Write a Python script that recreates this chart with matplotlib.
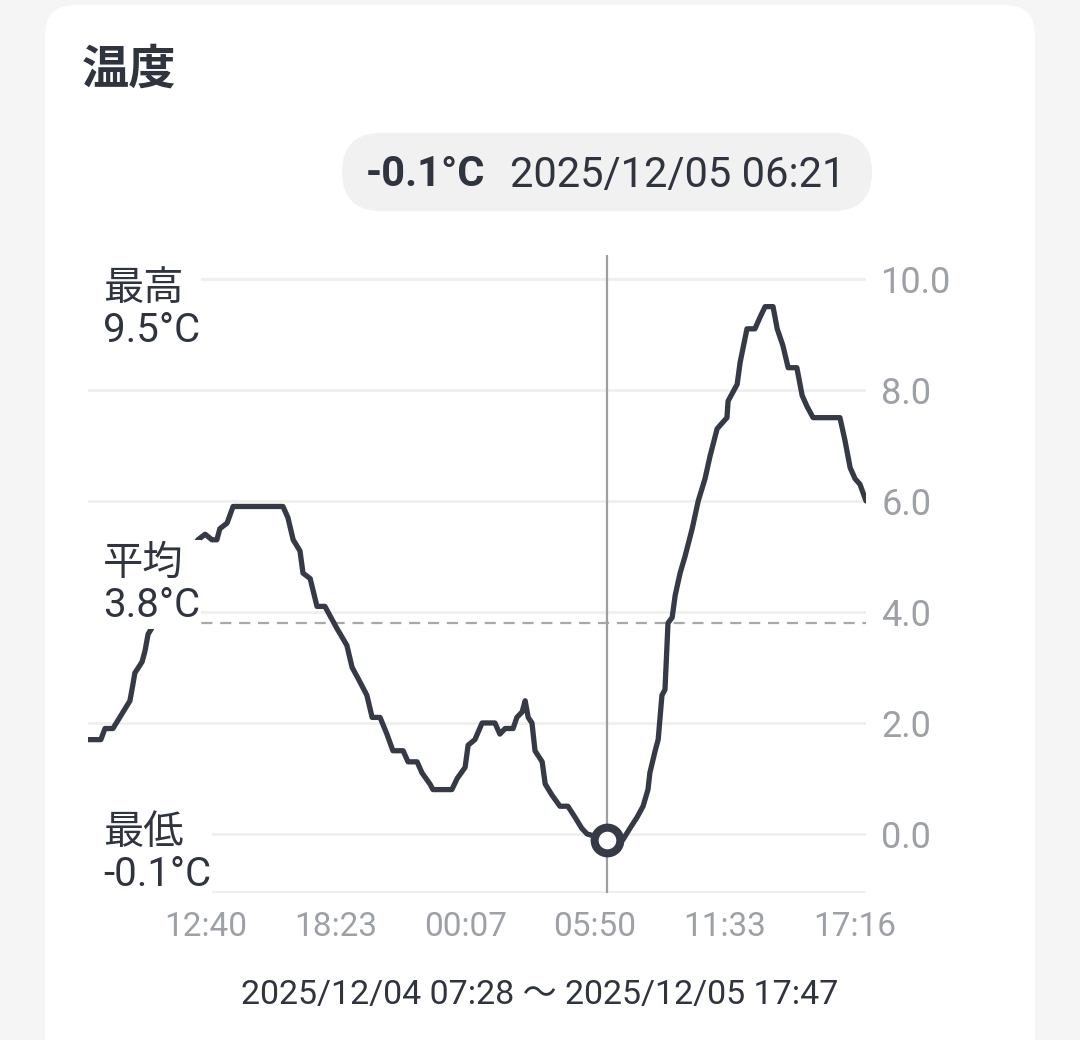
import numpy as np
import pandas as pd
from matplotlib import pyplot as plt
from matplotlib.patches import FancyBboxPatch, Rectangle
import matplotlib.transforms as mtransforms

# DATA
times = ['2025-12-04 07:28', '2025-12-04 08:02', '2025-12-04 08:13', '2025-12-04 08:34',
         '2025-12-04 09:01', '2025-12-04 09:19', '2025-12-04 09:27', '2025-12-04 09:32',
         '2025-12-04 09:51', '2025-12-04 09:59', '2025-12-04 10:07', '2025-12-04 10:25',
         '2025-12-04 10:52', '2025-12-04 11:26', '2025-12-04 11:58', '2025-12-04 12:19',
         '2025-12-04 12:38', '2025-12-04 12:56', '2025-12-04 13:09', '2025-12-04 13:17',
         '2025-12-04 13:36', '2025-12-04 13:52', '2025-12-04 16:04', '2025-12-04 16:17',
         '2025-12-04 16:31', '2025-12-04 16:49', '2025-12-04 16:57', '2025-12-04 17:16',
         '2025-12-04 17:34', '2025-12-04 17:55', '2025-12-04 18:27', '2025-12-04 18:53',
         '2025-12-04 19:07', '2025-12-04 19:23', '2025-12-04 19:46', '2025-12-04 20:00',
         '2025-12-04 20:21', '2025-12-04 20:39', '2025-12-04 20:55', '2025-12-04 21:22',
         '2025-12-04 21:35', '2025-12-04 21:59', '2025-12-04 22:12', '2025-12-04 22:33',
         '2025-12-04 22:41', '2025-12-04 23:31', '2025-12-04 23:45', '2025-12-05 00:06',
         '2025-12-05 00:14', '2025-12-05 00:32', '2025-12-05 00:51', '2025-12-05 01:25',
         '2025-12-05 01:38', '2025-12-05 01:52', '2025-12-05 02:13', '2025-12-05 02:23',
         '2025-12-05 02:37', '2025-12-05 02:45', '2025-12-05 02:53', '2025-12-05 03:03',
         '2025-12-05 03:11', '2025-12-05 03:30', '2025-12-05 03:38', '2025-12-05 03:56',
         '2025-12-05 04:17', '2025-12-05 04:38', '2025-12-05 04:57', '2025-12-05 05:15',
         '2025-12-05 05:29', '2025-12-05 06:21', '2025-12-05 07:04', '2025-12-05 07:22',
         '2025-12-05 07:41', '2025-12-05 07:57', '2025-12-05 08:10', '2025-12-05 08:15',
         '2025-12-05 08:29', '2025-12-05 08:37', '2025-12-05 08:47', '2025-12-05 08:55',
         '2025-12-05 09:03', '2025-12-05 09:14', '2025-12-05 09:22', '2025-12-05 09:35',
         '2025-12-05 09:48', '2025-12-05 10:07', '2025-12-05 10:23', '2025-12-05 10:41',
         '2025-12-05 10:54', '2025-12-05 11:13', '2025-12-05 11:39', '2025-12-05 11:42',
         '2025-12-05 12:06', '2025-12-05 12:14', '2025-12-05 12:32', '2025-12-05 12:53',
         '2025-12-05 13:06', '2025-12-05 13:20', '2025-12-05 13:41', '2025-12-05 13:52',
         '2025-12-05 14:07', '2025-12-05 14:21', '2025-12-05 14:44', '2025-12-05 14:58',
         '2025-12-05 15:11', '2025-12-05 15:27', '2025-12-05 16:38', '2025-12-05 16:51',
         '2025-12-05 17:05', '2025-12-05 17:18', '2025-12-05 17:31', '2025-12-05 17:47']
temps = [1.7, 1.7, 1.9, 1.9, 2.2, 2.4, 2.7, 2.9, 3.1, 3.3, 3.6, 3.8,
         4.2, 4.7, 5.1, 5.3, 5.4, 5.3, 5.3, 5.5, 5.6, 5.9, 5.9, 5.7,
         5.3, 5.1, 4.7, 4.6, 4.1, 4.1, 3.7, 3.4, 3.0, 2.8, 2.5, 2.1,
         2.1, 1.8, 1.5, 1.5, 1.3, 1.3, 1.1, 0.9, 0.8, 0.8, 1.0, 1.2,
         1.6, 1.7, 2.0, 2.0, 1.8, 1.9, 1.9, 2.1, 2.2, 2.4, 2.1, 2.0,
         1.5, 1.3, 0.9, 0.7, 0.5, 0.5, 0.3, 0.1, 0.0, -0.1, -0.1, 0.1,
         0.3, 0.5, 0.8, 1.1, 1.5, 1.7, 2.5, 2.6, 3.8, 3.9, 4.3, 4.7,
         5.0, 5.5, 6.0, 6.4, 6.8, 7.3, 7.5, 7.8, 8.1, 8.5, 9.1, 9.1,
         9.3, 9.5, 9.5, 9.1, 8.8, 8.4, 8.4, 7.9, 7.7, 7.5, 7.5, 7.1,
         6.6, 6.4, 6.3, 6.0]

x_ticks = ['2025-12-04 12:40', '2025-12-04 18:23', '2025-12-05 00:07',
           '2025-12-05 05:50', '2025-12-05 11:33', '2025-12-05 17:16']
x_tick_labels = ['12:40', '18:23', '00:07', '05:50', '11:33', '17:16']
y_ticks = [0, 2, 4, 6, 8, 10]
y_tick_labels = ['0.0', '2.0', '4.0', '6.0', '8.0', '10.0']

temp_max = 9.5
temp_avg = 3.8
temp_min = -0.1
cursor_time = '2025-12-05 06:21'
cursor_temp = -0.1
range_start = '2025/12/04 07:28'
range_end = '2025/12/05 17:47'

# STYLE
plt.rcParams['font.family'] = ['Roboto', 'Noto Sans CJK JP', 'DejaVu Sans']
dark = '#30343f'
line_col = '#353a46'
gray = '#9da1a6'
grid_col = '#efefef'

t = pd.to_datetime(times)
fig = plt.figure(figsize=(10.8, 10.4), dpi=100, facecolor='#f5f5f5')

# background layer in pixel coordinates
bg = fig.add_axes([0, 0, 1, 1], zorder=0)
bg.set_xlim(0, 1080)
bg.set_ylim(1040, 0)
bg.axis('off')
bg.add_patch(FancyBboxPatch((45, 5), 990, 1100, boxstyle='round,pad=0,rounding_size=30',
                            facecolor='white', edgecolor='none'))
bg.add_patch(FancyBboxPatch((342, 133), 530, 78, boxstyle='round,pad=0,rounding_size=39',
                            facecolor='#f1f1f1', edgecolor='none'))
bg.text(82, 70, '温度', fontsize=34, fontweight='bold', color=dark, ha='left', va='center')
bg.text(366, 175, '{:.1f}°C'.format(cursor_temp), fontsize=30, fontweight='bold',
        color=dark, ha='left', va='center')
bg.text(510, 175, pd.to_datetime(cursor_time).strftime('%Y/%m/%d %H:%M'), fontsize=30,
        color=dark, ha='left', va='center')
bg.text(540, 995, '{} 〜 {}'.format(range_start, range_end), fontsize=24.5, color=dark,
        ha='center', va='center')

# main chart
ax = fig.add_axes([88 / 1080, (1040 - 893) / 1040, 778 / 1080, 638 / 1040], zorder=1)
ax.set_facecolor('none')
ax.set_xlim(pd.to_datetime(times[0]), pd.to_datetime(times[-1]))
ax.set_ylim(-1.063, 10.43)

for yv in y_ticks:
    ax.axhline(yv, color=grid_col, lw=2, zorder=1)
ax.axhline(-1.063, color=grid_col, lw=3, zorder=1)
ax.axhline(temp_avg, color='#a6a8ab', lw=1.6, ls=(0, (5, 3.5)), zorder=2)
ax.axvline(pd.to_datetime(cursor_time), color='#9e9e9e', lw=1.6, zorder=2)

ax.plot(t, temps, color=line_col, lw=3.8, solid_joinstyle='round',
        solid_capstyle='round', zorder=3)
ax.plot([pd.to_datetime(cursor_time)], [cursor_temp], marker='o', ms=18.5, mew=5.8,
        mfc='white', mec=line_col, zorder=4)

for s in ax.spines.values():
    s.set_visible(False)
ax.yaxis.tick_right()
ax.set_yticks(y_ticks)
ax.set_yticklabels(y_tick_labels)
ax.set_xticks(pd.to_datetime(x_ticks))
ax.set_xticklabels(x_tick_labels)
ax.tick_params(axis='y', length=0, pad=11, labelsize=26, labelcolor=gray)
ax.tick_params(axis='x', length=0, pad=13, labelsize=24, labelcolor=gray)

# stat labels, each on a white block that hides the chart behind it
trans = mtransforms.blended_transform_factory(ax.transAxes, ax.transData)
label_x = (103 - 88) / 778
labels = [('最高', temp_max, 9.45), ('平均', temp_avg, 4.5), ('最低', temp_min, -0.35)]
renderer = fig.canvas.get_renderer()
ax_left = ax.get_window_extent(renderer).x0
for name, val, ypos in labels:
    txt = ax.text(label_x, ypos, '{}\n{:.1f}°C'.format(name, val), transform=trans,
                  fontsize=29, color=dark, ha='left', va='center', linespacing=1.1, zorder=6)
    bb = txt.get_window_extent(renderer)
    ax.add_patch(Rectangle((ax_left - 2, bb.y0 - 4), bb.x1 - ax_left + 3, bb.height + 8,
                           transform=mtransforms.IdentityTransform(), facecolor='white',
                           edgecolor='none', zorder=5, clip_on=False))

plt.savefig('out.png', dpi=100, facecolor=fig.get_facecolor())
